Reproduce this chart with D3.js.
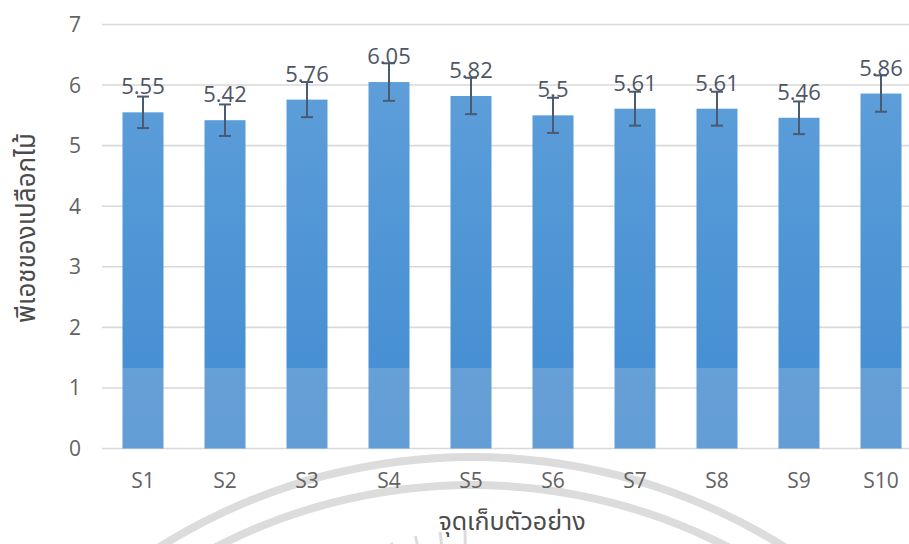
<!DOCTYPE html>
<html>
<head>
<meta charset="utf-8">
<script src="https://cdn.jsdelivr.net/npm/d3@7/dist/d3.min.js"></script>
<style>
  html, body { margin: 0; padding: 0; background: #fff; }
  svg { display: block; }
</style>
</head>
<body>
<svg id="chart" width="909" height="544"></svg>
<script>
const categories = ["S1","S2","S3","S4","S5","S6","S7","S8","S9","S10"];
const values = [5.55, 5.42, 5.76, 6.05, 5.82, 5.5, 5.61, 5.61, 5.46, 5.86];
const errors = [0.26, 0.26, 0.29, 0.31, 0.30, 0.29, 0.28, 0.28, 0.27, 0.30];
const yTicks = [0, 1, 2, 3, 4, 5, 6, 7];
const xTitle = "จุดเก็บตัวอย่าง";
const yTitle = "พีเอชของเปลือกไม้";

const svg = d3.select("#chart");
const W = 909, H = 544;
const plot = { left: 102, right: 922, top: 24.5, bottom: 448.5 };
const font = "'Open Sans', 'Noto Sans', sans-serif";
const thaiFont = "'Noto Sans Thai', 'Noto Sans Thai UI', 'Tahoma', 'Open Sans', sans-serif";

const x = d3.scaleBand().domain(categories).range([plot.left, plot.right]).paddingInner(0.5).paddingOuter(0.25);
const y = d3.scaleLinear().domain([0, 7]).range([plot.bottom, plot.top]);

// watermark arcs (decorative)
const wm = svg.append("g");
const arc = d3.arc();
[[583, 591], [555, 563]].forEach(([r0, r1]) => {
  wm.append("path")
    .attr("transform", "translate(472,1044)")
    .attr("d", arc({innerRadius: r0, outerRadius: r1, startAngle: -Math.PI/3.1, endAngle: Math.PI/3.1}))
    .attr("fill", "#dcdcdc");
});
const rayAngles = [-0.42, -0.32, -0.22, -0.12, -0.02];
wm.selectAll("line.ray").data(rayAngles).enter().append("line")
  .attr("class", "ray")
  .attr("x1", a => 470 + Math.sin(a) * 250)
  .attr("y1", a => 780 - Math.cos(a) * 250)
  .attr("x2", a => 470 + Math.sin(a) * 225)
  .attr("y2", a => 780 - Math.cos(a) * 225)
  .attr("stroke", "#dcdcdc")
  .attr("stroke-width", 3);

// gradient for bars
const defs = svg.append("defs");
const grad = defs.append("linearGradient").attr("id", "barGrad")
  .attr("gradientUnits", "userSpaceOnUse")
  .attr("x1", 0).attr("x2", 0).attr("y1", plot.top).attr("y2", plot.bottom);
[
  [0, "#64a2db"], [0.35, "#5599d7"], [0.81, "#4790d3"],
  [0.81, "#67a0d7"], [1, "#629dd5"]
].forEach(([o, c]) => grad.append("stop").attr("offset", o).attr("stop-color", c));

// gridlines
svg.append("g").selectAll("line").data(yTicks).enter().append("line")
  .attr("x1", plot.left).attr("x2", W)
  .attr("y1", d => y(d)).attr("y2", d => y(d))
  .attr("stroke", "#d9d9d9").attr("stroke-width", 1.6);

// y tick labels
svg.append("g").selectAll("text").data(yTicks).enter().append("text")
  .attr("x", 81).attr("y", d => y(d)).attr("dy", "0.36em")
  .attr("text-anchor", "end")
  .attr("font-family", font).attr("font-size", 21).attr("fill", "#626262")
  .text(d => d);

// bars
svg.append("g").selectAll("rect").data(categories).enter().append("rect")
  .attr("x", d => x(d)).attr("width", x.bandwidth())
  .attr("y", (d, i) => y(values[i])).attr("height", (d, i) => y(0) - y(values[i]))
  .attr("fill", "url(#barGrad)");

// error bars
const eb = svg.append("g").attr("stroke", "#4a5a70").attr("stroke-width", 2);
categories.forEach((c, i) => {
  const cx = x(c) + x.bandwidth() / 2;
  const hi = y(values[i] + errors[i]), lo = y(values[i] - errors[i]);
  eb.append("line").attr("x1", cx).attr("x2", cx).attr("y1", hi).attr("y2", lo);
  eb.append("line").attr("x1", cx - 6).attr("x2", cx + 6).attr("y1", hi).attr("y2", hi);
  eb.append("line").attr("x1", cx - 6).attr("x2", cx + 6).attr("y1", lo).attr("y2", lo);
});

// value labels
svg.append("g").selectAll("text").data(categories).enter().append("text")
  .attr("x", d => x(d) + x.bandwidth() / 2)
  .attr("y", (d, i) => y(values[i]) - 18)
  .attr("text-anchor", "middle")
  .attr("font-family", font).attr("font-size", 22).attr("fill", "#4d5566")
  .text((d, i) => values[i]);

// x tick labels
svg.append("g").selectAll("text").data(categories).enter().append("text")
  .attr("x", d => x(d) + x.bandwidth() / 2)
  .attr("y", 488)
  .attr("text-anchor", "middle")
  .attr("font-family", font).attr("font-size", 21).attr("fill", "#626262")
  .text(d => d);

// axis titles
svg.append("text")
  .attr("x", (plot.left + plot.right) / 2).attr("y", 530)
  .attr("text-anchor", "middle")
  .attr("font-family", thaiFont).attr("font-size", 25).attr("fill", "#4a4a4a")
  .text(xTitle);

svg.append("text")
  .attr("transform", "translate(35,228) rotate(-90)")
  .attr("text-anchor", "middle")
  .attr("font-family", thaiFont).attr("font-size", 26).attr("fill", "#4a4a4a")
  .text(yTitle);
</script>
</body>
</html>
